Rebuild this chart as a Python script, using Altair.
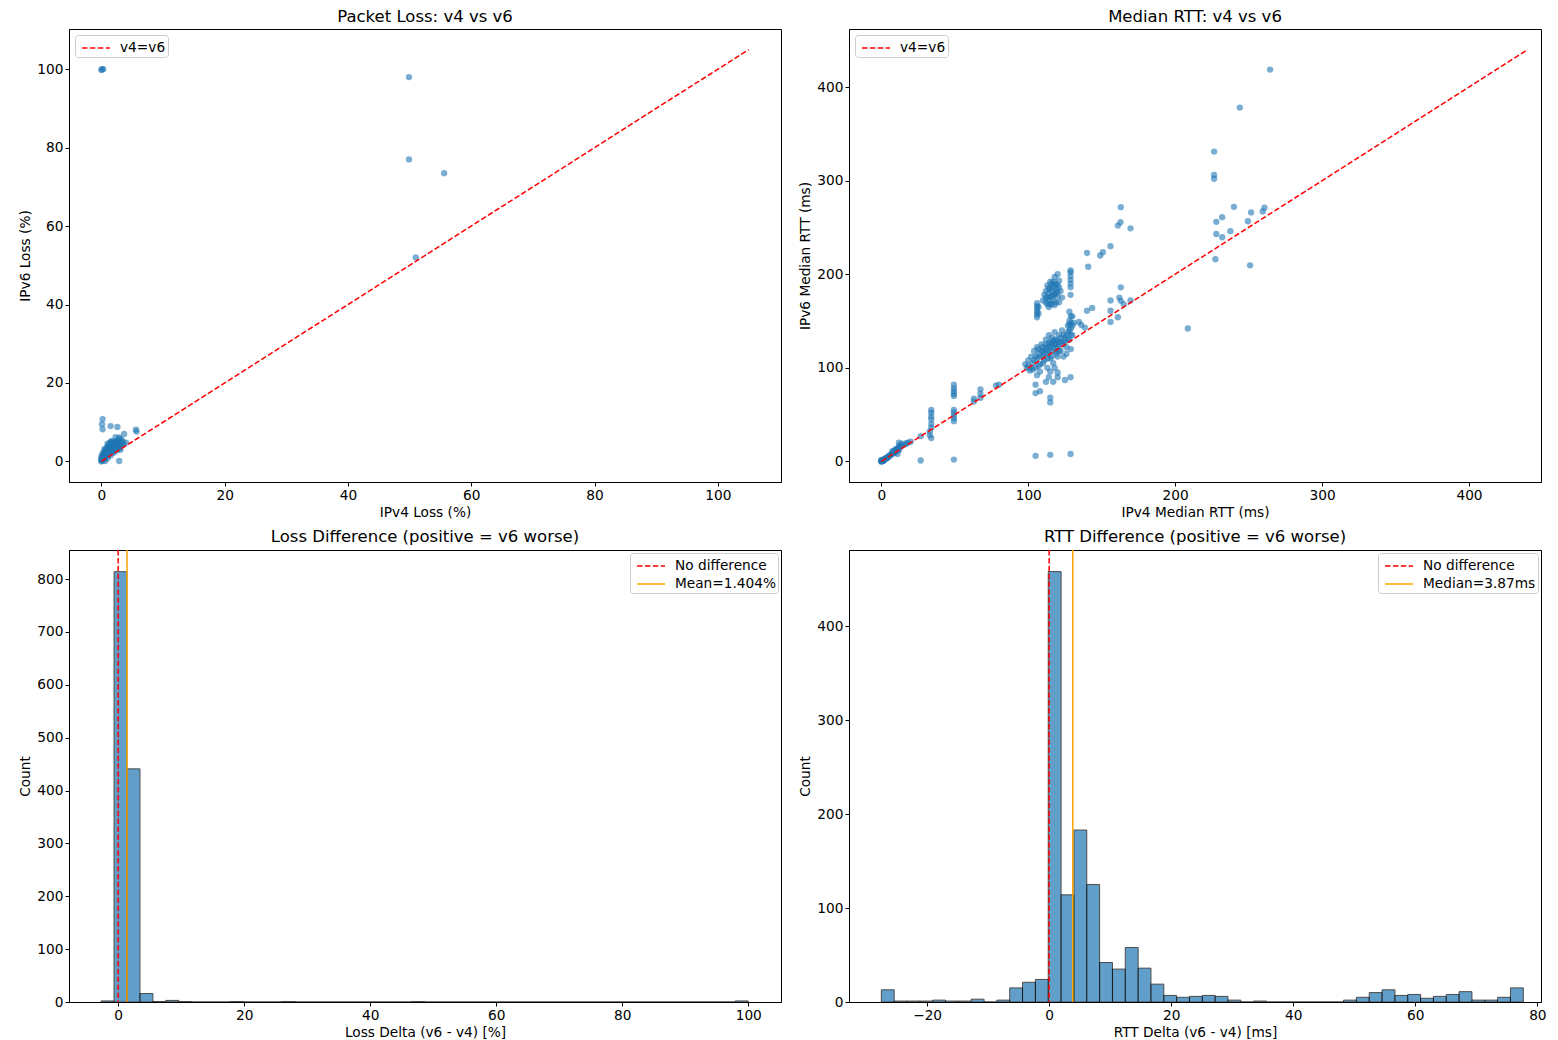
import altair as alt
import pandas as pd
import numpy as np

FONT = "DejaVu Sans"
BLUE = "#1f77b4"

# ---------------- Packet loss scatter (IPv4 loss %, IPv6 loss %) ----------------
loss_v4 = [0.1, 0.3, 0.0, 49.9, 49.9, 55.6, 51.0,
           0.2, 0.1, 0.2, 1.5, 2.6, 5.6, 5.7, 3.7, 2.9, 2.9, 3.3, 2.5,
           0.0, 0.0, 0.1, 0.2, 0.0, 0.3, 0.5, 0.4, 0.6, 0.8, 0.9, 1.1, 1.2, 1.4, 1.5,
           1.7, 2.0, 2.2, 2.4, 2.6, 2.0, 1.8, 1.6, 1.4, 1.2, 1.0, 0.8, 0.6, 0.4, 0.2,
           1.0, 1.5, 2.0, 2.5, 3.0, 3.2, 2.8, 2.2, 1.8, 1.3, 0.7, 0.3, 0.5, 0.2, 1.0,
           1.8, 2.4, 3.0, 3.5, 4.0, 3.6, 2.3, 3.0, 0.1, 0.6, 1.1,
           0.0, 0.1, 0.3, 0.5, 0.7, 0.9, 1.1, 1.3, 1.5, 1.7, 1.9, 2.1, 2.3, 2.5, 2.7,
           2.9, 3.1, 1.6, 2.6, 3.4, 0.8, 1.2, 2.0, 0.4, 0.6]
loss_v6 = [100.0, 100.0, 99.8, 98.0, 77.0, 73.5, 52.0,
           10.8, 9.5, 8.2, 9.0, 8.8, 8.1, 7.6, 7.0, 6.1, 0.1, 5.5, 5.2,
           0.0, 0.3, 0.6, 1.0, 1.3, 1.6, 2.0, 2.4, 2.8, 3.1, 3.5, 3.9, 4.2, 4.6, 5.0,
           5.2, 5.0, 4.8, 4.6, 4.2, 3.8, 3.3, 2.9, 2.5, 2.1, 1.7, 1.3, 0.9, 0.5, 0.2,
           0.8, 1.5, 2.2, 2.8, 3.4, 4.0, 3.9, 3.0, 2.4, 1.9, 1.5, 0.8, 3.2, 2.0, 4.5,
           4.1, 4.9, 4.6, 5.0, 4.8, 4.3, 6.2, 5.8, 0.4, 0.1, 2.6,
           0.5, 1.0, 1.2, 1.5, 2.0, 2.4, 2.8, 3.2, 3.6, 4.0, 4.4, 4.2, 3.8, 3.5, 3.2,
           3.6, 3.0, 4.8, 5.0, 4.6, 2.2, 3.0, 2.6, 1.8, 1.1]
loss_line = [0, 105]

# ---------------- Median RTT scatter (ms) ----------------
rtt_v4 = [0, 0.5, 1, 0.3, 1.5, 2, 0, 3, 4, 5, 6, 7, 8, 9, 10, 11, 12, 13, 12, 14, 16, 18, 20, 17, 7.5, 9, 10, 11, 12,
          0, 0.2, 0.8, 1.2, 1.8, 2.5, 3.5, 4.5, 5.5, 6.5, 8.5, 9.5, 10.5, 11.5, 12.5, 13.5,
          26.8, 26.8, 34, 34, 34, 34, 34, 34, 33, 33, 34,
          49.4, 49.4, 49.4, 49.4, 49.4, 49.4, 49.4, 49.4, 49.4, 49.4, 49.4,
          63, 63, 67.5, 67.5, 67.5, 80, 78,
          98, 99, 100, 101, 102, 103, 104, 105, 106, 106, 107, 108, 108, 109, 110, 110, 111, 112, 112, 113, 113,
          114, 114, 115, 115, 116, 116, 117, 117, 118, 118, 119, 119, 120, 120, 121, 122, 122, 123, 124, 125,
          126, 127, 127, 128, 128, 129, 129, 130, 130, 129, 128, 126, 124, 118, 120, 115, 112, 114, 106, 105,
          104, 105, 107, 108, 109, 110, 111, 112, 113, 114, 115, 116, 117, 118, 119, 120, 121, 122, 123, 124,
          125, 126, 127, 128, 129, 130, 129, 128, 113, 116, 119, 121, 110, 107, 103, 100, 102,
          105, 105, 108, 115, 115, 117, 120, 125, 128.8, 115, 128.8, 134.5, 138.5, 136, 131,
          106, 106, 106, 106, 106, 106, 107, 107,
          112, 113, 114, 115, 116, 115, 117, 118, 119, 120, 121, 112, 114, 117, 119, 120, 122, 113, 118, 116,
          121, 110, 111, 120, 118, 123,
          113, 114, 115, 116, 117, 118, 119, 116, 115, 117, 119, 121, 114, 112, 120,
          128.8, 128.8, 128.8, 128.8, 128.8, 128.8, 128.8,
          140, 140.8, 140, 143.5, 149, 150.8, 156, 156, 156, 156, 161, 161, 162.8, 163, 163, 163, 169.6, 169.6,
          165, 162,
          208.6, 227.4, 228, 228, 232, 232, 237.6, 240, 249.5, 251, 251.7, 259.6, 260.8, 226.5, 226.5, 226.5,
          244, 264.6]
rtt_v6 = [0, 0.3, 1, 0.8, 0.5, 2, 1.5, 2.5, 3.5, 5, 7, 8, 10, 12, 11, 14, 16, 17, 20, 19, 18, 20, 21, 19.5, 11, 9, 13, 8, 12,
          0, 0.5, 0.4, 1.5, 2.2, 3, 4, 5, 6, 6.5, 9, 10.5, 12, 13, 15, 16,
          27, 1, 55, 52, 48, 45, 40, 36, 32, 28, 25,
          82, 78, 75, 72, 70, 55, 52, 49, 46, 43, 2,
          64, 67, 77, 72, 68, 82, 81,
          104, 100, 108, 97, 112, 105, 118, 100, 110, 122, 115, 104, 96, 125, 112, 118, 108, 130, 120, 115, 100,
          126, 135, 122, 110, 132, 118, 128, 105, 125, 138, 118, 130, 122, 112, 135, 128, 118, 140, 125, 132,
          122, 138, 145, 150, 130, 120, 142, 135, 155, 155, 160, 115, 112, 100, 95, 96, 85, 90, 92, 82,
          108, 112, 120, 112, 118, 122, 115, 125, 122, 118, 128, 125, 122, 130, 125, 128, 125, 132, 128, 135,
          128, 135, 130, 140, 135, 145, 148, 146, 110, 112, 115, 118, 105, 102, 98, 102, 100,
          73, 6, 75, 68, 63, 85, 90, 87, 90, 7, 8, 149, 143, 146, 148,
          154, 157, 160, 163, 166, 169, 158, 165,
          170, 175, 180, 185, 190, 168, 172, 178, 183, 188, 193, 182, 165, 192, 170, 176, 182, 188, 167, 176,
          170, 172, 178, 200, 197, 175,
          168, 172, 176, 182, 186, 188, 190, 168, 192, 178, 180, 186, 185, 175, 181,
          186, 190, 194, 198, 202, 204, 178,
          222.7, 208, 161, 164, 220, 223.5, 230, 172, 161, 149, 154, 252, 255.5, 271.6, 186, 171.6, 249, 172,
          168, 175,
          142, 216, 256, 243, 261, 239.5, 246, 272, 256.6, 209.5, 266, 267, 271, 306, 302, 331,
          378, 418.6]
rtt_line = [0, 440]

# ---------------- Histograms (50 bins each) ----------------
loss_delta_range = [-2.7, 100.0]
loss_counts = [2, 814, 441, 16, 1, 3, 1, 0, 0, 0,
               1, 0, 0, 0, 1, 0, 0, 0, 0, 0,
               0, 0, 0, 0, 1, 0, 0, 0, 0, 0,
               0, 0, 0, 0, 0, 0, 0, 0, 0, 0,
               0, 0, 0, 0, 0, 0, 0, 0, 0, 2]
loss_mean = 1.404

rtt_delta_range = [-27.5, 77.7]
rtt_counts = [13, 1, 1, 1, 2, 1, 1, 3, 0, 2,
              15, 21, 24, 458, 114, 183, 125, 42, 35, 58,
              36, 19, 7, 5, 6, 7, 6, 2, 0, 1,
              0, 0, 0, 0, 0, 0, 2, 5, 10, 13,
              7, 8, 4, 6, 8, 11, 2, 2, 5, 15]
rtt_median = 3.87

N_BINS = 50

LEFT_W, RIGHT_W = 712, 692
TOP_H, BOTTOM_H = 453, 452
FS = 13.7


def legend(orient, offset):
    return alt.Legend(title=None, orient=orient, offset=offset, fillColor="white",
                      strokeColor="#cccccc", padding=2, cornerRadius=3,
                      symbolType="M-0.6,0H2.2", symbolSize=400, symbolStrokeWidth=1.5,
                      labelFontSize=FS, labelFont=FONT, labelColor="black",
                      rowPadding=0, labelOffset=21)


def scatter_panel(v4, v6, line_vals, xdom, ydom, xticks, yticks, title, xt, yt, w):
    pts = pd.DataFrame({"v4": v4, "v6": v6})
    ln = pd.DataFrame({"v4": line_vals, "v6": line_vals, "label": ["v4=v6"] * len(line_vals)})
    xs = alt.Scale(domain=xdom, nice=False, zero=False)
    ys = alt.Scale(domain=ydom, nice=False, zero=False)
    p = alt.Chart(pts).mark_circle(size=40, color=BLUE, opacity=0.6).encode(
        x=alt.X("v4:Q", scale=xs, axis=alt.Axis(values=xticks, title=xt)),
        y=alt.Y("v6:Q", scale=ys, axis=alt.Axis(values=yticks, title=yt)),
    )
    lg = legend("top-left", 6)
    l = alt.Chart(ln).mark_line(strokeWidth=1.5).encode(
        x="v4:Q", y="v6:Q",
        color=alt.Color("label:N", scale=alt.Scale(domain=["v4=v6"], range=["red"]), legend=lg),
        strokeDash=alt.StrokeDash("label:N", scale=alt.Scale(domain=["v4=v6"], range=[[5.5, 2.4]]), legend=lg),
    )
    return alt.layer(p, l).properties(width=w, height=TOP_H, title=title)


def hist_panel(rng, counts, xdom, ydom, xticks, yticks, title, xt, stat_label, stat_val, w):
    edges = np.linspace(rng[0], rng[1], N_BINS + 1)
    df = pd.DataFrame({"lo": edges[:-1], "hi": edges[1:], "count": counts})
    xs = alt.Scale(domain=xdom, nice=False, zero=False)
    ys = alt.Scale(domain=ydom, nice=False, zero=False)
    bars = alt.Chart(df).mark_bar(color=BLUE, opacity=0.7, stroke="black", strokeWidth=1).encode(
        x=alt.X("lo:Q", scale=xs, axis=alt.Axis(values=xticks, title=xt)),
        x2="hi:Q",
        y=alt.Y("count:Q", scale=ys, axis=alt.Axis(values=yticks, title="Count")),
        y2=alt.datum(0),
    )
    labels = ["No difference", stat_label]
    vl = pd.DataFrame({"pos": [0.0, stat_val], "label": labels})
    lg = legend("top-right", 3)
    rules = alt.Chart(vl).mark_rule(strokeWidth=1.5).encode(
        x="pos:Q",
        color=alt.Color("label:N", scale=alt.Scale(domain=labels, range=["red", "orange"]), legend=lg),
        strokeDash=alt.StrokeDash("label:N", scale=alt.Scale(domain=labels, range=[[5.5, 2.4], [1, 0]]), legend=lg),
    )
    return alt.layer(bars, rules).properties(width=w, height=BOTTOM_H, title=title)


p1 = scatter_panel(loss_v4, loss_v6, loss_line, [-5.25, 110.25], [-5.25, 110.25],
                   [0, 20, 40, 60, 80, 100], [0, 20, 40, 60, 80, 100],
                   "Packet Loss: v4 vs v6", "IPv4 Loss (%)", "IPv6 Loss (%)", LEFT_W)
p2 = scatter_panel(rtt_v4, rtt_v6, rtt_line, [-22, 449], [-22, 462],
                   [0, 100, 200, 300, 400], [0, 100, 200, 300, 400],
                   "Median RTT: v4 vs v6", "IPv4 Median RTT (ms)", "IPv6 Median RTT (ms)", RIGHT_W)
p3 = hist_panel(loss_delta_range, loss_counts, [-7.8, 105.2], [0, 855],
                [0, 20, 40, 60, 80, 100], [0, 100, 200, 300, 400, 500, 600, 700, 800],
                "Loss Difference (positive = v6 worse)", "Loss Delta (v6 - v4) [%]",
                "Mean=%.3f%%" % loss_mean, loss_mean, LEFT_W)
p4 = hist_panel(rtt_delta_range, rtt_counts, [-32.8, 80.6], [0, 481],
                [-20, 0, 20, 40, 60, 80], [0, 100, 200, 300, 400],
                "RTT Difference (positive = v6 worse)", "RTT Delta (v6 - v4) [ms]",
                "Median=%.2fms" % rtt_median, rtt_median, RIGHT_W)

res = dict(color="independent", strokeDash="independent")
top = alt.hconcat(p1, p2, spacing=16).resolve_scale(**res).resolve_legend(**res)
bottom = alt.hconcat(p3, p4, spacing=16).resolve_scale(**res).resolve_legend(**res)
chart = alt.vconcat(top, bottom, spacing=8).resolve_scale(**res).resolve_legend(**res)

chart = chart.properties(
    padding={"left": 10, "top": 0, "right": 0, "bottom": 0},
    background="white",
).configure_view(
    stroke="black", strokeWidth=1
).configure_axis(
    grid=False, domainColor="black", tickColor="black", labelColor="black",
    titleColor="black", labelFont=FONT, titleFont=FONT, labelFontSize=FS,
    titleFontSize=FS, titleFontWeight="normal", tickSize=4, labelPadding=2,
    titlePadding=4, domainWidth=1, tickWidth=1,
).configure_title(
    font=FONT, fontSize=16.5, fontWeight="normal", color="black", offset=0,
)

chart.save("out.html", embed_options={"renderer": "svg", "actions": False})
